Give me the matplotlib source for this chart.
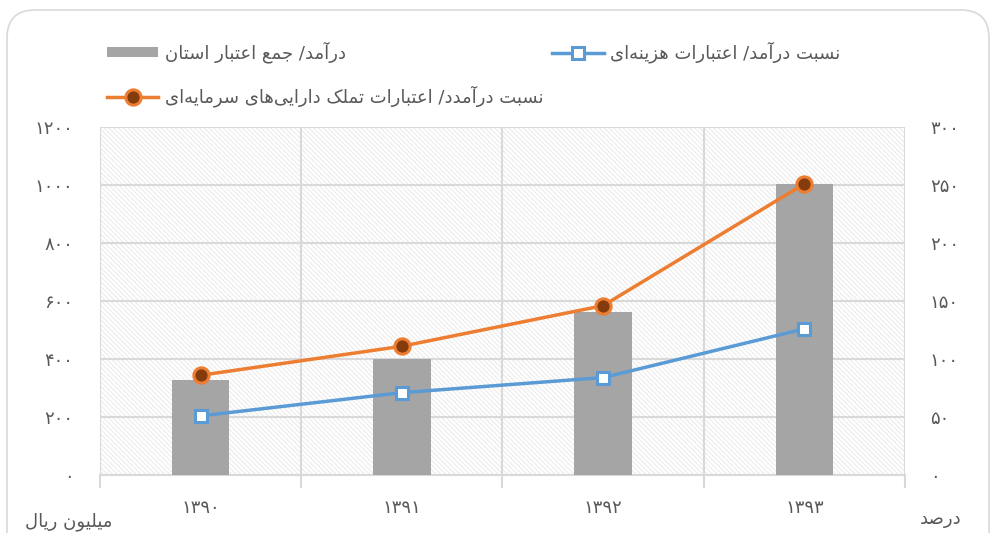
import matplotlib
matplotlib.use('Agg')
import matplotlib.pyplot as plt
from matplotlib.patches import Rectangle, FancyBboxPatch, Patch
from matplotlib.lines import Line2D
from matplotlib.transforms import IdentityTransform
import numpy as np

plt.rcParams['font.family'] = ['DejaVu Sans']
plt.rcParams['hatch.linewidth'] = 0.8

# ---------------- data ----------------
years = ['۱۳۹۰', '۱۳۹۱', '۱۳۹۲', '۱۳۹۳']
income_total = [328, 400, 563, 1003]        # left axis (million rial)
ratio_current = [51, 71, 84, 126]           # right axis (percent)
ratio_capital = [86, 111, 146, 251]         # right axis (percent)
left_ticks = [0, 200, 400, 600, 800, 1000, 1200]
right_ticks = [0, 50, 100, 150, 200, 250, 300]

bar_label = 'درآمد/ جمع اعتبار استان'
blue_label = 'نسبت درآمد/ اعتبارات هزینه\u200cای'
orange_label = 'نسبت درآمدد/ اعتبارات تملک دارایی\u200cهای سرمایه\u200cای'
left_unit = 'میلیون ریال'
right_unit = 'درصد'

# ---------------- simple persian shaping ----------------
# isolated, final, initial, medial
FORMS = {
    '\u0622': ('\uFE81', '\uFE82', None, None),
    '\u0627': ('\uFE8D', '\uFE8E', None, None),
    '\u0628': ('\uFE8F', '\uFE90', '\uFE91', '\uFE92'),
    '\u062A': ('\uFE95', '\uFE96', '\uFE97', '\uFE98'),
    '\u062C': ('\uFE9D', '\uFE9E', '\uFE9F', '\uFEA0'),
    '\u062F': ('\uFEA9', '\uFEAA', None, None),
    '\u0631': ('\uFEAD', '\uFEAE', None, None),
    '\u0632': ('\uFEAF', '\uFEB0', None, None),
    '\u0633': ('\uFEB1', '\uFEB2', '\uFEB3', '\uFEB4'),
    '\u0635': ('\uFEB9', '\uFEBA', '\uFEBB', '\uFEBC'),
    '\u0639': ('\uFEC9', '\uFECA', '\uFECB', '\uFECC'),
    '\u0644': ('\uFEDD', '\uFEDE', '\uFEDF', '\uFEE0'),
    '\u0645': ('\uFEE1', '\uFEE2', '\uFEE3', '\uFEE4'),
    '\u0646': ('\uFEE5', '\uFEE6', '\uFEE7', '\uFEE8'),
    '\u0647': ('\uFEE9', '\uFEEA', '\uFEEB', '\uFEEC'),
    '\u0648': ('\uFEED', '\uFEEE', None, None),
    '\u06CC': ('\uFBFC', '\uFBFD', '\uFBFE', '\uFBFF'),
    '\u064A': ('\uFBFC', '\uFBFD', '\uFBFE', '\uFBFF'),
    '\u06A9': ('\uFB8E', '\uFB8F', '\uFB90', '\uFB91'),
    '\u0643': ('\uFB8E', '\uFB8F', '\uFB90', '\uFB91'),
}


def fa(s):
    out = []
    for i, c in enumerate(s):
        if c not in FORMS:
            out.append(c)
            continue
        prev = s[i - 1] if i > 0 else None
        nxt = s[i + 1] if i + 1 < len(s) else None
        jp = prev in FORMS and FORMS[prev][2] is not None
        jn = FORMS[c][2] is not None and nxt in FORMS
        iso, fin, ini, med = FORMS[c]
        if jp and jn:
            out.append(med)
        elif jp:
            out.append(fin)
        elif jn:
            out.append(ini)
        else:
            out.append(iso)
    return ''.join(out).replace('\u200c', '')[::-1]


def fa_num(n):
    return str(int(n)).translate(str.maketrans('0123456789', '۰۱۲۳۴۵۶۷۸۹'))


# ---------------- figure ----------------
fig = plt.figure(figsize=(9.96, 5.33), dpi=100)
fig.patch.set_facecolor('white')

border = FancyBboxPatch((7, -30), 982, 553, boxstyle='round,pad=0,rounding_size=28',
                        transform=IdentityTransform(), facecolor='none',
                        edgecolor='#d9d9d9', linewidth=1.2)
fig.patches.append(border)

ax = fig.add_axes([0.1004, 0.1088, 0.8082, 0.6529])
ax2 = ax.twinx()

grid_c = '#d9d9d9'
txt_c = '#595959'
x = np.arange(len(years))

# hatched plot area
ax.add_patch(Rectangle((0, 0), 1, 1, transform=ax.transAxes, facecolor='white',
                       edgecolor='#ececec', hatch='\\' * 7, linewidth=0, zorder=0))

ax.bar(x, income_total, width=0.285, color='#a5a5a5', zorder=3)
ax.set_xlim(-0.5, 3.5)
ax.set_ylim(0, 1200)
ax.set_yticks(left_ticks)
ax.set_yticklabels([fa_num(v) for v in left_ticks])
ax.set_xticks(x)
ax.set_xticklabels(years)
ax.set_xticks(np.arange(-0.5, 4.0, 1.0), minor=True)
ax.tick_params(axis='x', which='major', length=0, pad=17, labelsize=13, colors=txt_c)
ax.tick_params(axis='x', which='minor', length=9, width=1.5, color=grid_c)
ax.tick_params(axis='y', length=0, pad=19, labelsize=13, colors=txt_c)
ax.grid(axis='y', color=grid_c, linewidth=1.5, zorder=1)
ax.grid(axis='x', which='minor', color=grid_c, linewidth=1.5, zorder=1)
ax.set_axisbelow(False)
for sp in ax.spines.values():
    sp.set_visible(False)
ax.spines['bottom'].set_visible(True)
ax.spines['bottom'].set_color(grid_c)
ax.spines['bottom'].set_linewidth(1.5)

ax2.plot(x, ratio_current, color='#5b9bd5', linewidth=2.5, marker='s', markersize=9,
         markerfacecolor='white', markeredgecolor='#5b9bd5', markeredgewidth=2.2,
         zorder=5)
ax2.plot(x, ratio_capital, color='#ed7d31', linewidth=2.5, marker='o', markersize=11,
         markerfacecolor='#843c0c', markeredgecolor='#ed7d31', markeredgewidth=2.2,
         zorder=6)
ax2.set_ylim(0, 300)
ax2.set_yticks(right_ticks)
ax2.set_yticklabels([fa_num(v) for v in right_ticks])
ax2.tick_params(axis='y', length=0, pad=18, labelsize=13, colors=txt_c)
for sp in ax2.spines.values():
    sp.set_visible(False)

# legend
h_bar = Patch(facecolor='#a5a5a5', edgecolor='none')
h_blue = Line2D([], [], color='#5b9bd5', linewidth=2.5, marker='s', markersize=9,
                markerfacecolor='white', markeredgecolor='#5b9bd5', markeredgewidth=2.2)
h_orange = Line2D([], [], color='#ed7d31', linewidth=2.5, marker='o', markersize=11,
                  markerfacecolor='#843c0c', markeredgecolor='#ed7d31', markeredgewidth=2.2)
leg = fig.legend([h_bar, h_orange, h_blue], [fa(bar_label), fa(orange_label), fa(blue_label)],
                 ncol=2, loc='upper left', bbox_to_anchor=(0.091, 0.953), frameon=False,
                 fontsize=13, handlelength=2.85, handleheight=0.45, handletextpad=0.35,
                 columnspacing=0.5, labelspacing=1.25, labelcolor=txt_c)

fig.text(0.113, 0.003, fa(left_unit), fontsize=13, color=txt_c, ha='right', va='bottom')
fig.text(0.965, 0.01, fa(right_unit), fontsize=13, color=txt_c, ha='right', va='bottom')

fig.savefig('out.png', dpi=100, facecolor='white')
